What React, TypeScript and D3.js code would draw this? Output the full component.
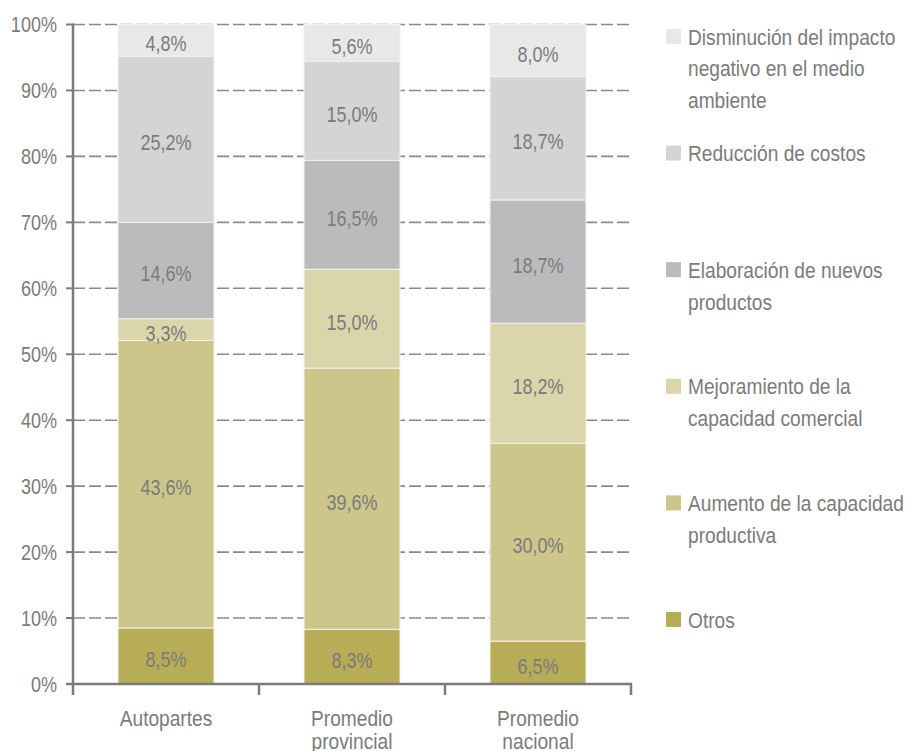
import React, { useEffect, useRef } from "react";
import * as d3 from "d3";

// categorias (eje X), cada una puede tener varias lineas
const categories = ["Autopartes", "Promedio provincial", "Promedio nacional"];
const categoryLines = [["Autopartes"], ["Promedio", "provincial"], ["Promedio", "nacional"]];

// series en orden de apilado (de abajo hacia arriba)
const seriesNames = [
  "Otros",
  "Aumento de la capacidad productiva",
  "Mejoramiento de la capacidad comercial",
  "Elaboración de nuevos productos",
  "Reducción de costos",
  "Disminución del impacto negativo en el medio ambiente",
];
const legendLines = [
  ["Otros"],
  ["Aumento de la capacidad", "productiva"],
  ["Mejoramiento de la", "capacidad comercial"],
  ["Elaboración de nuevos", "productos"],
  ["Reducción de costos"],
  ["Disminución del impacto", "negativo en el medio", "ambiente"],
];
const seriesColors = ["#b6ad56", "#cdc68b", "#dad5aa", "#bbbbbd", "#d4d4d4", "#e8e8e8"];

// valores (%) por serie, en el orden de las categorias
const otros = [8.5, 8.3, 6.5];
const aumento = [43.6, 39.6, 30.0];
const mejoramiento = [3.3, 15.0, 18.2];
const elaboracion = [14.6, 16.5, 18.7];
const reduccion = [25.2, 15.0, 18.7];
const disminucion = [4.8, 5.6, 8.0];

const yTicks = [0, 10, 20, 30, 40, 50, 60, 70, 80, 90, 100];

// no hay fuente condensada: se usa Liberation Sans comprimida en X
const FONT = "'Liberation Sans', Arial, sans-serif";
const NUM_SX = 0.82;
const TXT_SX = 0.87;
const GREY = "#7b7b7b";

const App = () => {
  const ref = useRef<SVGSVGElement>(null);

  useEffect(() => {
    const svg = d3.select(ref.current);
    svg.selectAll("*").remove();

    const values = [otros, aumento, mejoramiento, elaboracion, reduccion, disminucion];
    const rows = categories.map((c, i) => {
      const row: any = { cat: c };
      seriesNames.forEach((s, j) => (row[s] = values[j][i]));
      return row;
    });
    const stacked = d3.stack().keys(seriesNames)(rows);

    const left = 73;
    const right = 631;
    const top = 24.5;
    const bottom = 684;

    const x = d3.scaleBand().domain(categories).range([left, right]).paddingInner(0.484).paddingOuter(0.242);
    const xTicks = d3.scaleBand().domain(categories).range([left, right]);
    const y = d3.scaleLinear().domain([0, 100]).range([bottom, top]);

    // lineas de grilla punteadas
    svg
      .append("g")
      .selectAll("line")
      .data(yTicks.filter((t) => t > 0))
      .enter()
      .append("line")
      .attr("x1", left)
      .attr("x2", right + 1)
      .attr("y1", (d) => y(d))
      .attr("y2", (d) => y(d))
      .attr("stroke", "#8a8a8a")
      .attr("stroke-width", 1.6)
      .attr("stroke-dasharray", "12,4");

    // barras apiladas
    const layers = svg
      .append("g")
      .selectAll("g")
      .data(stacked)
      .enter()
      .append("g")
      .attr("fill", (d, i) => seriesColors[i]);

    layers
      .selectAll("rect")
      .data((d) => d)
      .enter()
      .append("rect")
      .attr("x", (d: any) => x(d.data.cat)!)
      .attr("y", (d) => y(Math.min(d[1], 100)))
      .attr("width", x.bandwidth())
      .attr("height", (d) => y(d[0]) - y(Math.min(d[1], 100)))
      .attr("stroke", "#f4f2e6")
      .attr("stroke-width", 1);

    layers
      .selectAll("text")
      .data((d) => d)
      .enter()
      .append("text")
      .attr(
        "transform",
        (d: any) =>
          `translate(${x(d.data.cat)! + x.bandwidth() / 2},${y((d[0] + Math.min(d[1], 100)) / 2) + 11}) scale(${NUM_SX},1)`
      )
      .attr("text-anchor", "middle")
      .attr("font-family", FONT)
      .attr("font-size", 22)
      .attr("fill", GREY)
      .text((d) => d3.format(".1f")(d[1] - d[0]).replace(".", ",") + "%");

    // eje Y
    const yAxis = svg.append("g");
    yAxis
      .append("line")
      .attr("x1", left)
      .attr("x2", left)
      .attr("y1", top - 1)
      .attr("y2", bottom)
      .attr("stroke", GREY)
      .attr("stroke-width", 2.5);
    yAxis
      .selectAll("line.tick")
      .data(yTicks)
      .enter()
      .append("line")
      .attr("class", "tick")
      .attr("x1", left - 7)
      .attr("x2", left)
      .attr("y1", (d) => y(d))
      .attr("y2", (d) => y(d))
      .attr("stroke", GREY)
      .attr("stroke-width", 2);
    yAxis
      .selectAll("text")
      .data(yTicks)
      .enter()
      .append("text")
      .attr("transform", (d) => `translate(${left - 16},${y(d) + 7.8}) scale(${NUM_SX},1)`)
      .attr("text-anchor", "end")
      .attr("font-family", FONT)
      .attr("font-size", 22)
      .attr("fill", GREY)
      .text((d) => d + "%");

    // eje X
    const xAxis = svg.append("g");
    xAxis
      .append("line")
      .attr("x1", left - 7)
      .attr("x2", right + 1)
      .attr("y1", bottom)
      .attr("y2", bottom)
      .attr("stroke", GREY)
      .attr("stroke-width", 2.5);
    xAxis
      .selectAll("line.tick")
      .data([...categories.map((c) => xTicks(c)!), right])
      .enter()
      .append("line")
      .attr("class", "tick")
      .attr("x1", (d) => d)
      .attr("x2", (d) => d)
      .attr("y1", bottom)
      .attr("y2", bottom + 11)
      .attr("stroke", GREY)
      .attr("stroke-width", 2.5);

    const catLabels = xAxis
      .selectAll("text")
      .data(categories)
      .enter()
      .append("text")
      .attr("transform", (d) => `translate(${x(d)! + x.bandwidth() / 2},726) scale(${TXT_SX},1)`)
      .attr("text-anchor", "middle")
      .attr("font-family", FONT)
      .attr("font-size", 22)
      .attr("fill", GREY);
    catLabels
      .selectAll("tspan")
      .data((d, i) => categoryLines[i])
      .enter()
      .append("tspan")
      .attr("x", 0)
      .attr("y", (d, k) => k * 23)
      .text((d) => d);

    // leyenda (de arriba hacia abajo: orden inverso del apilado)
    const legendStep = 116.6;
    const legend = svg
      .append("g")
      .selectAll("g")
      .data(seriesNames.map((s, i) => i).reverse())
      .enter()
      .append("g")
      .attr("transform", (d, k) => `translate(666, ${36.5 + k * legendStep})`);

    legend
      .append("rect")
      .attr("x", 0)
      .attr("y", -7.5)
      .attr("width", 15)
      .attr("height", 15)
      .attr("fill", (d) => seriesColors[d]);

    legend
      .append("text")
      .attr("transform", `translate(22,0) scale(${TXT_SX},1)`)
      .attr("font-family", FONT)
      .attr("font-size", 22)
      .attr("fill", GREY)
      .selectAll("tspan")
      .data((d) => legendLines[d])
      .enter()
      .append("tspan")
      .attr("x", 0)
      .attr("y", (d, k) => 8 + k * 32)
      .text((d) => d);
  }, []);

  return (
    <svg
      ref={ref}
      width={912}
      height={751}
      style={{ position: "absolute", left: 0, top: 0, background: "#ffffff" }}
    />
  );
};

export default App;
